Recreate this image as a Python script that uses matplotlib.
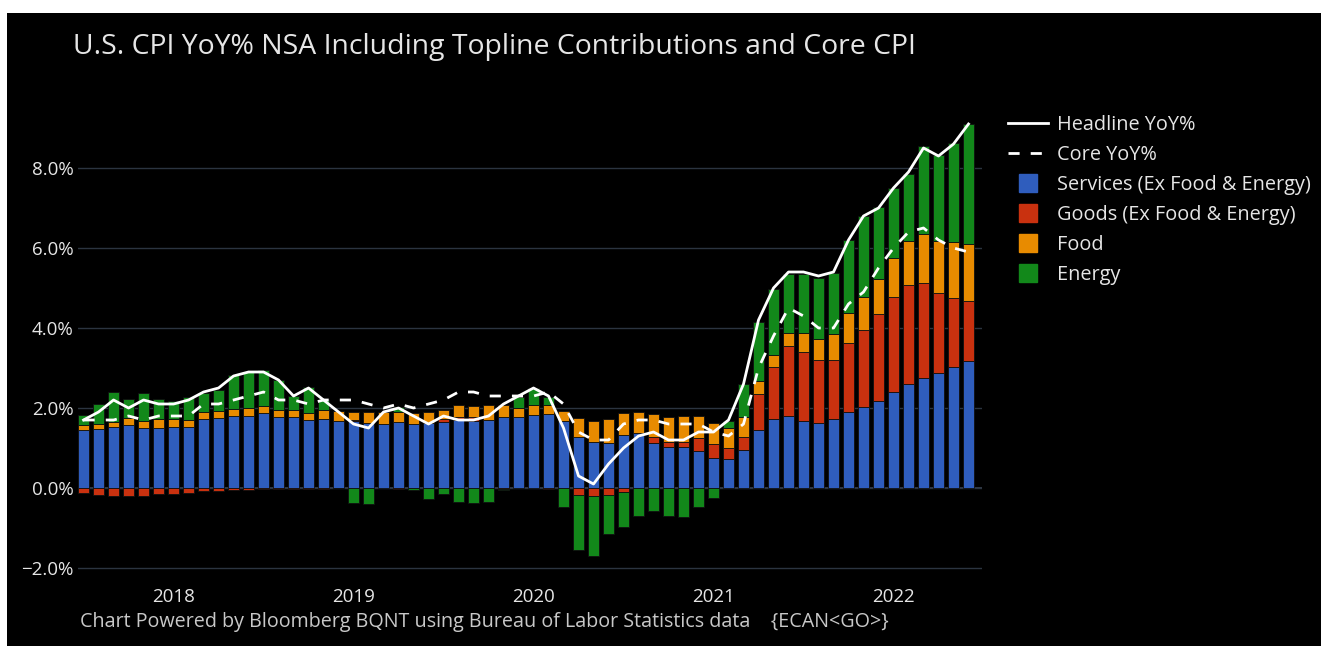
import numpy as np
import pandas as pd
import matplotlib
matplotlib.use("Agg")
from matplotlib import pyplot as plt
from matplotlib.lines import Line2D
from matplotlib.patches import Rectangle

plt.rcParams['font.family'] = ['Open Sans', 'DejaVu Sans']

# monthly, Jul 2017 .. Jun 2022
months = pd.date_range("2017-07-01", periods=60, freq="MS")

services = [1.45, 1.48, 1.52, 1.57, 1.51, 1.51, 1.53, 1.53, 1.72, 1.74, 1.81, 1.81,
            1.87, 1.78, 1.77, 1.70, 1.72, 1.68, 1.67, 1.63, 1.60, 1.66, 1.60, 1.62,
            1.66, 1.70, 1.68, 1.70, 1.78, 1.77, 1.82, 1.85, 1.68, 1.28, 1.16, 1.13,
            1.33, 1.37, 1.13, 1.02, 1.02, 0.93, 0.76, 0.73, 0.95, 1.45, 1.72, 1.80,
            1.68, 1.62, 1.72, 1.91, 2.02, 2.17, 2.41, 2.59, 2.76, 2.88, 3.02, 3.18]
goods = [-0.13, -0.18, -0.20, -0.20, -0.19, -0.15, -0.14, -0.12, -0.08, -0.07, -0.05, -0.05,
         -0.03, -0.03, -0.03, -0.02, -0.02, -0.01, 0.03, 0.00, 0.00, -0.02, -0.01, 0.00,
         0.07, 0.07, 0.10, 0.00, -0.02, 0.00, 0.00, -0.02, 0.00, -0.17, -0.20, -0.18,
         -0.10, 0.00, 0.15, 0.12, 0.12, 0.33, 0.33, 0.27, 0.33, 0.90, 1.30, 1.75,
         1.72, 1.57, 1.48, 1.72, 1.93, 2.17, 2.37, 2.48, 2.36, 2.00, 1.72, 1.50]
food = [0.13, 0.13, 0.14, 0.17, 0.17, 0.22, 0.19, 0.17, 0.17, 0.18, 0.16, 0.20,
        0.18, 0.18, 0.18, 0.18, 0.23, 0.24, 0.21, 0.27, 0.29, 0.23, 0.27, 0.29,
        0.22, 0.31, 0.28, 0.37, 0.29, 0.24, 0.25, 0.23, 0.25, 0.46, 0.52, 0.59,
        0.54, 0.53, 0.57, 0.63, 0.65, 0.55, 0.53, 0.50, 0.50, 0.33, 0.30, 0.33,
        0.48, 0.53, 0.65, 0.75, 0.83, 0.88, 0.98, 1.11, 1.22, 1.29, 1.42, 1.43]
energy = [0.25, 0.48, 0.75, 0.48, 0.69, 0.49, 0.45, 0.57, 0.48, 0.53, 0.86, 0.88,
          0.90, 0.75, 0.35, 0.65, 0.25, 0.00, -0.37, -0.40, 0.00, 0.14, -0.05, -0.28,
          -0.16, -0.34, -0.38, -0.34, -0.02, 0.26, 0.42, 0.20, -0.47, -1.38, -1.50, -0.98,
          -0.87, -0.69, -0.58, -0.69, -0.72, -0.47, -0.24, 0.17, 0.83, 1.48, 1.65, 1.48,
          1.47, 1.53, 1.52, 1.83, 2.02, 1.81, 1.73, 1.68, 2.21, 2.15, 2.46, 2.98]
headline = [1.7, 1.9, 2.2, 2.0, 2.2, 2.1, 2.1, 2.2, 2.4, 2.5, 2.8, 2.9,
            2.9, 2.7, 2.3, 2.5, 2.2, 1.9, 1.6, 1.5, 1.9, 2.0, 1.8, 1.6,
            1.8, 1.7, 1.7, 1.8, 2.1, 2.3, 2.5, 2.3, 1.5, 0.3, 0.1, 0.6,
            1.0, 1.3, 1.4, 1.2, 1.2, 1.4, 1.4, 1.7, 2.6, 4.2, 5.0, 5.4,
            5.4, 5.3, 5.4, 6.2, 6.8, 7.0, 7.5, 7.9, 8.5, 8.3, 8.6, 9.1]
core = [1.7, 1.7, 1.7, 1.8, 1.7, 1.8, 1.8, 1.8, 2.1, 2.1, 2.2, 2.3,
        2.4, 2.2, 2.2, 2.1, 2.2, 2.2, 2.2, 2.1, 2.0, 2.1, 2.0, 2.1,
        2.2, 2.4, 2.4, 2.3, 2.3, 2.3, 2.3, 2.4, 2.1, 1.4, 1.2, 1.2,
        1.6, 1.7, 1.7, 1.6, 1.6, 1.6, 1.4, 1.3, 1.6, 3.0, 3.8, 4.5,
        4.3, 4.0, 4.0, 4.6, 4.9, 5.5, 6.0, 6.4, 6.5, 6.2, 6.0, 5.9]

series = [("Services (Ex Food & Energy)", services, "#2f5dbd"),
          ("Goods (Ex Food & Energy)", goods, "#c9310f"),
          ("Food", food, "#e88b00"),
          ("Energy", energy, "#12881a")]

BG = "#000000"
GRID = "#2b3440"
TXT = "#e6e6e6"

fig = plt.figure(figsize=(13.21, 6.46), dpi=100, facecolor="white")
fig.patches.append(Rectangle((7 / 1321, 0), 1, (646 - 13) / 646,
                             transform=fig.transFigure, facecolor=BG,
                             edgecolor="none", zorder=-10))

ax = fig.add_axes([78 / 1321, 1 - 580 / 646, 904 / 1321, 476 / 646])
ax.set_facecolor(BG)

x = np.arange(len(months))
pos_base = np.zeros(len(x))
neg_base = np.zeros(len(x))
for name, vals, col in series:
    v = np.array(vals)
    bottom = np.where(v >= 0, pos_base, neg_base)
    ax.bar(x, v, bottom=bottom, width=0.73, color=col,
           edgecolor="#101010", linewidth=0.6, zorder=3)
    pos_base = pos_base + np.where(v >= 0, v, 0)
    neg_base = neg_base + np.where(v < 0, v, 0)

ax.plot(x, headline, color="white", lw=2, zorder=5)
ax.plot(x, core, color="white", lw=2, linestyle=(0, (4, 4)), zorder=5)

ax.set_xlim(-0.37, 59.9)
ax.set_ylim(-2.3, 9.6)
yt = [-2, 0, 2, 4, 6, 8]
ax.set_yticks(yt)
ax.set_yticklabels([f"{t:.1f}%".replace("-", "\u2212") for t in yt])
jan = [i for i, m in enumerate(months) if m.month == 1]
ax.set_xticks(jan)
ax.set_xticklabels([str(months[i].year) for i in jan])
ax.tick_params(axis="both", length=0, colors=TXT, labelsize=13.5)
ax.tick_params(axis="x", pad=6)
ax.tick_params(axis="y", pad=3)
ax.grid(axis="y", color=GRID, lw=1, zorder=0)
ax.axhline(0, color="#3a4452", lw=1.2, zorder=1)
for s in ax.spines.values():
    s.set_visible(False)

handles = [Line2D([], [], color="white", lw=2),
           Line2D([], [], color="white", lw=2, linestyle=(0, (4, 4)))]
labels = ["Headline YoY%", "Core YoY%"]
for name, vals, col in series:
    handles.append(Line2D([], [], marker="s", markersize=12.5, color=col, lw=0))
    labels.append(name)
leg = fig.legend(handles, labels, loc="upper left",
                 bbox_to_anchor=(990 / 1321, 1 - 97 / 646),
                 frameon=False, fontsize=14.3, labelcolor=TXT,
                 handlelength=2.0, handletextpad=0.45, labelspacing=0.5)

fig.text(73 / 1321, 1 - 47 / 646,
         "U.S. CPI YoY% NSA Including Topline Contributions and Core CPI",
         color=TXT, fontsize=20.4, va="center", ha="left")
fig.text(80 / 1321, 1 - 622 / 646,
         "Chart Powered by Bloomberg BQNT using Bureau of Labor Statistics data    {ECAN<GO>}",
         color="#c8c8c8", fontsize=14.2, va="center", ha="left")

fig.savefig("out.png", dpi=100, facecolor=fig.get_facecolor())
